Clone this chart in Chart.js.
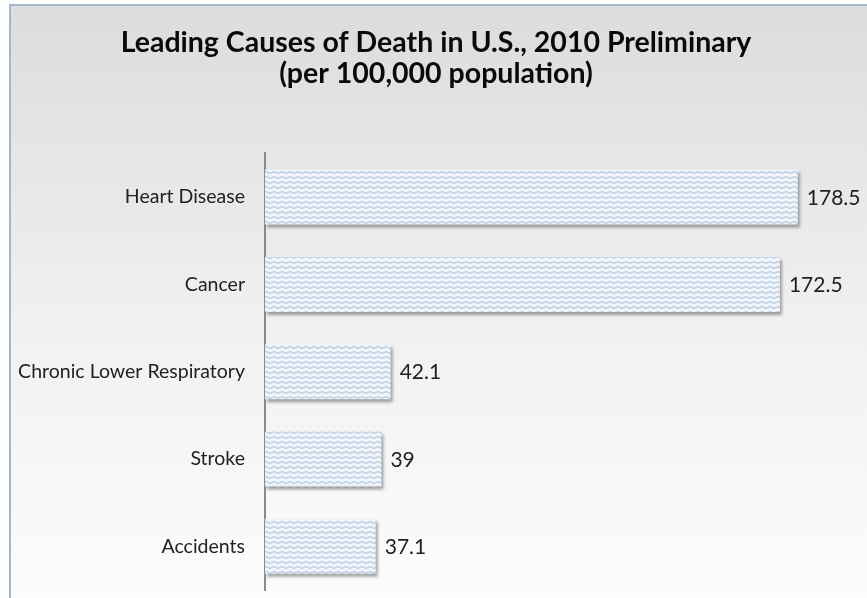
<!DOCTYPE html>
<html>
<head>
<meta charset="utf-8">
<script src="https://cdn.jsdelivr.net/npm/chart.js@4.4.0/dist/chart.umd.min.js"></script>
<style>
    html, body { margin: 0; padding: 0; background: #fff; }
    #wrap { width: 867px; height: 598px; position: relative; }
</style>
</head>
<body>
<div id="wrap"><canvas id="myChart"></canvas></div>
<script>
let causas = ['Heart Disease', 'Cancer', 'Chronic Lower Respiratory', 'Stroke', 'Accidents']
let taxas = [178.5, 172.5, 42.1, 39, 37.1]
let titulo = ['Leading Causes of Death in U.S., 2010 Preliminary', '(per 100,000 population)']

let fonte = "Lato, 'Open Sans', sans-serif"

// little wavy tile used to fill the bars
function criarPadrao() {
    let tile = document.createElement('canvas')
    tile.width = 8
    tile.height = 5
    let c = tile.getContext('2d')
    c.fillStyle = '#eff4fa'
    c.fillRect(0, 0, 8, 5)
    c.strokeStyle = '#a6bdd6'
    c.lineWidth = 1
    c.beginPath()
    c.moveTo(0, 2.5)
    c.quadraticCurveTo(2, 0.6, 4, 2.5)
    c.quadraticCurveTo(6, 4.4, 8, 2.5)
    c.stroke()
    return c.createPattern(tile, 'repeat')
}

// gray gradient panel with thin blue frame
const fundo = {
    id: 'fundo',
    beforeDraw(chart) {
        const ctx = chart.ctx
        ctx.save()
        let g = ctx.createLinearGradient(0, 5, 0, chart.height)
        g.addColorStop(0, '#dcdcdc')
        g.addColorStop(0.55, '#f1f1f1')
        g.addColorStop(1, '#fcfcfc')
        ctx.fillStyle = g
        ctx.fillRect(10, 5, chart.width, chart.height)
        ctx.strokeStyle = '#a3b6cc'
        ctx.lineWidth = 2
        ctx.strokeRect(10, 5, chart.width + 20, chart.height + 20)
        ctx.restore()
    }
}

// soft drop shadow under the bars
const sombra = {
    id: 'sombra',
    beforeDatasetDraw(chart) {
        const ctx = chart.ctx
        ctx.save()
        ctx.shadowColor = 'rgba(0, 0, 0, 0.35)'
        ctx.shadowBlur = 3
        ctx.shadowOffsetX = 2
        ctx.shadowOffsetY = 3
    },
    afterDatasetDraw(chart) {
        chart.ctx.restore()
    }
}

// value written just after the end of each bar
const rotulos = {
    id: 'rotulos',
    afterDatasetsDraw(chart) {
        const ctx = chart.ctx
        const meta = chart.getDatasetMeta(0)
        ctx.save()
        ctx.font = '21px ' + fonte
        ctx.fillStyle = '#1e1e1e'
        ctx.textAlign = 'left'
        ctx.textBaseline = 'middle'
        meta.data.forEach((bar, i) => {
            ctx.fillText(String(taxas[i]), bar.x + 9, bar.y + 1)
        })
        ctx.restore()
    }
}

const ctx = document.getElementById('myChart')

new Chart(ctx, {
    type: 'bar',
    data: {
        labels: causas,
        datasets: [{
            data: taxas,
            backgroundColor: criarPadrao(),
            borderWidth: 0,
            categoryPercentage: 1,
            barPercentage: 0.63
        }]
    },
    options: {
        indexAxis: 'y',
        responsive: true,
        maintainAspectRatio: false,
        animation: false,
        layout: {
            padding: { left: 10, right: 5, top: 0, bottom: 8 }
        },
        scales: {
            x: {
                display: false,
                min: 0,
                max: 200
            },
            y: {
                grid: { display: false },
                border: { display: true, color: '#8a8a8a', width: 2 },
                ticks: {
                    color: '#222',
                    padding: 12,
                    font: { family: fonte, size: 19.5 }
                },
                afterFit(scale) {
                    scale.width = 255
                    // axis runs the full height, labels need no extra room
                    scale.paddingTop = 0
                    scale.paddingBottom = 0
                }
            }
        },
        plugins: {
            legend: { display: false },
            tooltip: { enabled: false },
            title: {
                display: true,
                text: titulo,
                color: '#0a0a0a',
                font: { family: fonte, size: 28.5, weight: 'bold', lineHeight: 1.06 },
                padding: { top: 28, bottom: 65 }
            }
        }
    },
    plugins: [fundo, sombra, rotulos]
});
</script>
</body>
</html>
